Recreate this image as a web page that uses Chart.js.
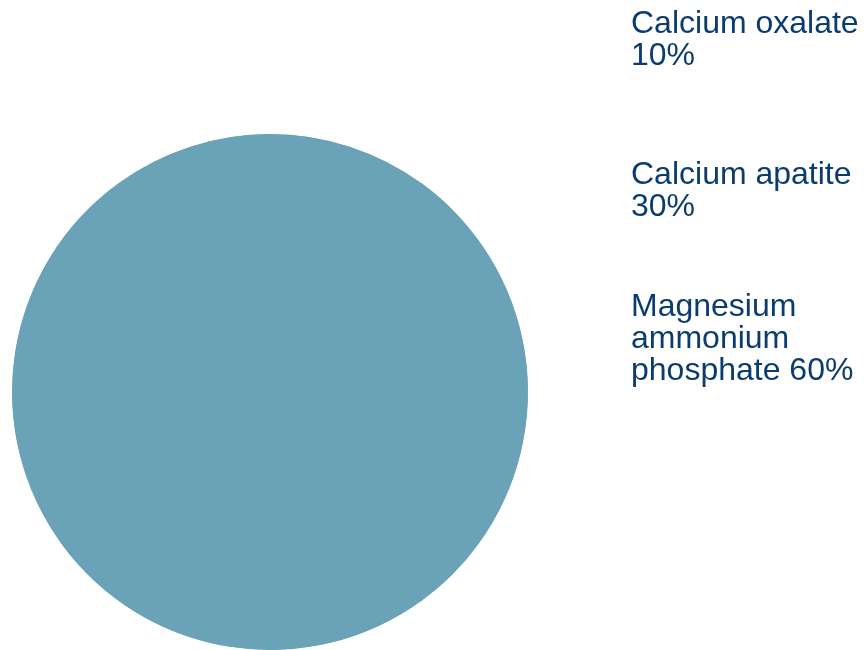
<!DOCTYPE html>
<html>
<head>
<meta charset="utf-8">
<script src="https://cdn.jsdelivr.net/npm/chart.js@4"></script>
<style>
  html, body { margin: 0; padding: 0; background: #fff; }
  #wrap { width: 864px; height: 650px; }
</style>
</head>
<body>
<div id="wrap"><canvas id="stonePie"></canvas></div>
<script>
const categories = ['Calcium oxalate', 'Calcium apatite', 'Magnesium ammonium phosphate'];
const shares = [10, 30, 60];
// how each label is broken onto lines in the picture
const labelLines = [
    ['Calcium oxalate', '10%'],
    ['Calcium apatite', '30%'],
    ['Magnesium', 'ammonium', 'phosphate 60%']
];

const sliceColor = '#6aa3b8';
const textColor = '#0b3c6f';

// label blocks drawn at the right side of the canvas
const sideLabels = {
    id: 'sideLabels',
    afterDraw(chart) {
        const ctx = chart.ctx;
        const tops = [33, 184, 316];
        ctx.save();
        ctx.fillStyle = textColor;
        ctx.font = '32px "Liberation Sans", Arial, sans-serif';
        ctx.textBaseline = 'alphabetic';
        labelLines.forEach((lines, i) => {
            lines.forEach((line, j) => {
                ctx.fillText(line, 631, tops[i] + j * 32);
            });
        });
        ctx.restore();
    }
};

new Chart(document.getElementById('stonePie'), {
    type: 'pie',
    data: {
        labels: categories,
        datasets: [{
            data: shares,
            backgroundColor: sliceColor,
            borderColor: sliceColor,
            borderWidth: 1,
            borderAlign: 'inner',
            hoverOffset: 0
        }]
    },
    options: {
        responsive: true,
        maintainAspectRatio: false,
        animation: false,
        layout: {
            padding: { left: 12, right: 336, top: 134, bottom: 0 }
        },
        plugins: {
            legend: { display: false },
            tooltip: { enabled: false }
        }
    },
    plugins: [sideLabels]
});
</script>
</body>
</html>
